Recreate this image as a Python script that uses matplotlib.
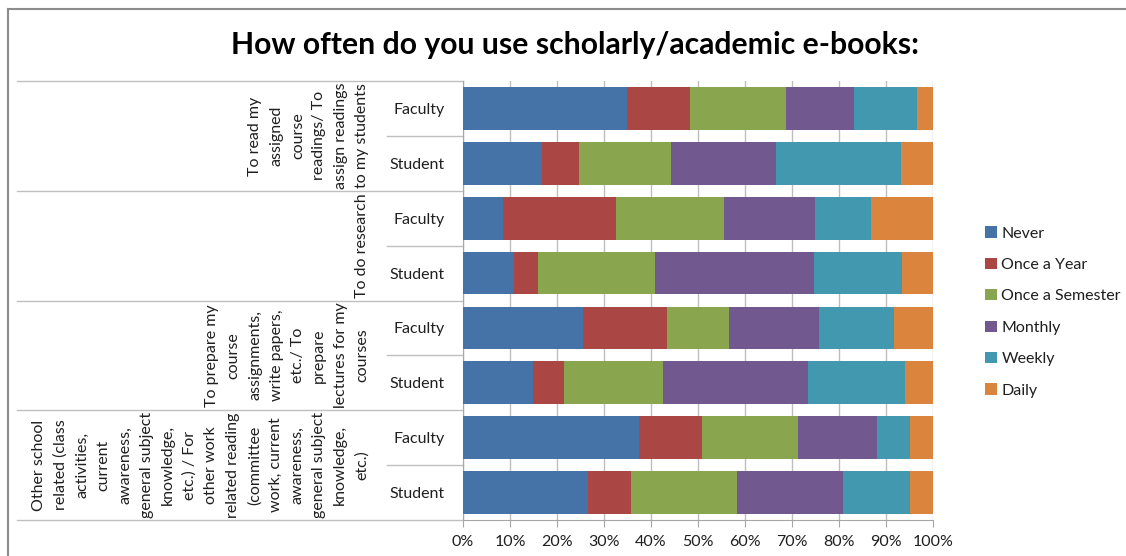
import numpy as np
import matplotlib
matplotlib.use("Agg")
import matplotlib.pyplot as plt
from matplotlib.ticker import FuncFormatter
from matplotlib.transforms import blended_transform_factory
from matplotlib.lines import Line2D

plt.rcParams['font.family'] = ['Lato', 'DejaVu Sans']

# rows, top to bottom
rows = ["Faculty", "Student", "Faculty", "Student",
        "Faculty", "Student", "Faculty", "Student"]

groups = [
    ["To read my", "assigned", "course", "readings/ To",
     "assign readings", "to my students"],
    ["To do research"],
    ["To prepare my", "course", "assignments,", "write papers,",
     "etc./ To", "prepare", "lectures for my", "courses"],
    ["Other school", "related (class", "activities,", "current",
     "awareness,", "general subject", "knowledge,", "etc.) / For",
     "other work", "related reading", "(committee", "work, current",
     "awareness,", "general subject", "knowledge,", "etc.)"],
]

series_names = ["Never", "Once a Year", "Once a Semester",
                "Monthly", "Weekly", "Daily"]

never = [34.9, 16.9, 8.6, 10.8, 25.5, 14.9, 37.4, 26.6]
once_year = [13.3, 7.8, 24.0, 5.2, 18.0, 6.5, 13.4, 9.2]
once_sem = [20.5, 19.6, 22.9, 24.8, 13.1, 21.1, 20.4, 22.4]
monthly = [14.5, 22.4, 19.3, 33.8, 19.2, 30.8, 16.8, 22.7]
weekly = [13.3, 26.4, 12.1, 18.9, 15.9, 20.8, 7.2, 14.3]
daily = [3.5, 6.9, 13.1, 6.5, 8.3, 5.9, 4.8, 4.8]

colors = ["#4572A7", "#AA4643", "#89A54E", "#71588F", "#4198AF", "#DB843D"]

W, H = 1126, 556
fs = 11.5
txt = '#1F1F1F'
fig = plt.figure(figsize=(W / 100, H / 100), dpi=100)
ax = fig.add_axes([463 / W, 1 - 520 / H, 470 / W, 439 / H])

y = np.arange(len(rows))
left = np.zeros(len(rows))
for name, vals, c in zip(series_names,
                         [never, once_year, once_sem, monthly, weekly, daily],
                         colors):
    vals = np.array(vals)
    ax.barh(y, vals, left=left, height=0.78, color=c, label=name, zorder=3)
    left += vals

ax.set_xlim(0, 100)
ax.set_ylim(len(rows) - 0.5, -0.5)
ax.set_xticks(np.arange(0, 101, 10))
ax.xaxis.set_major_formatter(FuncFormatter(lambda v, p: "%d%%" % v))
ax.set_yticks(y)
ax.set_yticklabels(rows)
ax.grid(axis='x', color='#BDBDBD', linewidth=1, zorder=0)

gray = '#A6A6A6'
for s in ['top', 'right']:
    ax.spines[s].set_visible(False)
for s in ['left', 'bottom']:
    ax.spines[s].set_color(gray)
ax.tick_params(axis='x', colors=gray, length=5, labelsize=fs,
               labelcolor=txt, pad=6)
ax.tick_params(axis='y', length=0, labelsize=fs, labelcolor=txt, pad=13)

# separators in the label area
tr = blended_transform_factory(ax.transAxes, ax.transData)
x_far = (17 - 463) / 470
x_near = (387 - 463) / 470
for g in range(len(groups) + 1):
    yy = g * 2 - 0.5
    ax.plot([x_far, 0], [yy, yy], color='#BFBFBF', lw=1, transform=tr,
            clip_on=False)
for g in range(len(groups)):
    yy = g * 2 + 0.5
    ax.plot([x_near, 0], [yy, yy], color='#BFBFBF', lw=1, transform=tr,
            clip_on=False)

x_lab = (369 - 463) / 470
for g, lines in enumerate(groups):
    ax.text(x_lab, g * 2 + 0.5, "\n".join(lines), transform=tr,
            rotation=90, ha='right', va='center', multialignment='center',
            fontsize=fs, linespacing=1.67, color=txt)

fig.text(575 / W, 1 - 45 / H,
         "How often do you use scholarly/academic e-books:",
         ha='center', va='center', fontsize=21.7, fontweight='bold',
         color='black')

ax.legend(loc='center left', bbox_to_anchor=(971 / W, 1 - 312 / H),
          bbox_transform=fig.transFigure, frameon=False, fontsize=fs,
          handlelength=0.7, handleheight=0.7, handletextpad=0.3,
          labelspacing=1.08, labelcolor=txt)

# outer frame
fig.add_artist(Line2D([8 / W, 8 / W], [0, 1 - 9 / H], color='#8C8C8C',
                      lw=1.5, transform=fig.transFigure))
fig.add_artist(Line2D([8 / W, 1], [1 - 9 / H, 1 - 9 / H], color='#8C8C8C',
                      lw=1.5, transform=fig.transFigure))

fig.savefig("out.png", dpi=100)
